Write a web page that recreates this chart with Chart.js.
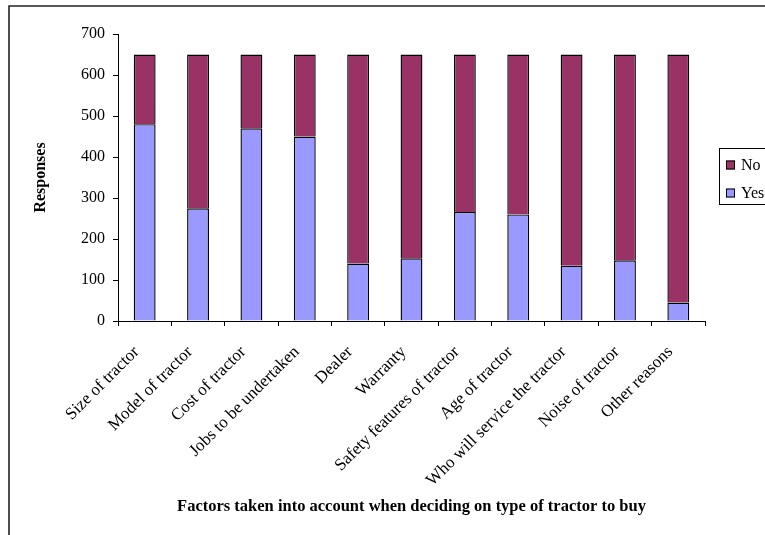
<!DOCTYPE html>
<html>
<head>
<meta charset="utf-8">
<title>Tractor purchase factors</title>
<script src="https://cdn.jsdelivr.net/npm/chart.js@4/dist/chart.umd.min.js"></script>
<style>
  html, body { margin: 0; padding: 0; background: #fff; overflow: hidden; }
  #wrap { position: relative; width: 765px; height: 535px; }
</style>
</head>
<body>
<div id="wrap"><canvas id="tractorChart" width="765" height="535"></canvas></div>
<script>
// Survey responses per factor (each bar totals 650 respondents)
const factors = [
  'Size of tractor', 'Model of tractor', 'Cost of tractor', 'Jobs to be undertaken',
  'Dealer', 'Warranty', 'Safety features of tractor', 'Age of tractor',
  'Who will service the tractor', 'Noise of tractor', 'Other reasons'
];
const yesCounts = [480, 275, 470, 450, 140, 153, 266, 260, 135, 148, 45];
const noCounts = [170, 375, 180, 200, 510, 497, 384, 390, 515, 502, 605];
const yTicks = [0, 100, 200, 300, 400, 500, 600, 700];

const serif = '"Liberation Serif", "Times New Roman", serif';

// Outer frame of the chart sheet (right/bottom edges run off the page)
const framePlugin = {
  id: 'frame',
  beforeDraw(chart) {
    const ctx = chart.ctx;
    ctx.save();
    ctx.fillStyle = '#fff';
    ctx.fillRect(0, 0, chart.width, chart.height);
    ctx.strokeStyle = '#222';
    ctx.lineWidth = 1.6;
    ctx.beginPath();
    ctx.moveTo(9, chart.height + 2);
    ctx.lineTo(9, 6);
    ctx.lineTo(chart.width + 2, 6);
    ctx.stroke();
    ctx.restore();
  }
};

// Boxed legend on the right, No above Yes
const boxLegend = {
  id: 'boxLegend',
  afterDraw(chart) {
    const ctx = chart.ctx;
    const items = chart.data.datasets.slice().reverse();
    ctx.save();
    ctx.strokeStyle = '#000';
    ctx.lineWidth = 1;
    ctx.strokeRect(719.5, 148.5, 60, 56);
    ctx.font = '16px ' + serif;
    ctx.textBaseline = 'middle';
    items.forEach((ds, i) => {
      const cy = 165 + i * 28;
      ctx.fillStyle = ds.backgroundColor;
      ctx.fillRect(726, cy - 4.5, 9, 9);
      ctx.strokeRect(726.5, cy - 4, 8, 8);
      ctx.fillStyle = '#000';
      ctx.fillText(ds.label, 741, cy + 1);
    });
    ctx.restore();
  }
};

new Chart(document.getElementById('tractorChart'), {
  type: 'bar',
  data: {
    labels: factors,
    datasets: [
      {
        label: 'Yes',
        data: yesCounts,
        backgroundColor: '#9999ff',
        borderColor: '#000',
        borderWidth: 1.4,
        barPercentage: 0.41,
        categoryPercentage: 1
      },
      {
        label: 'No',
        data: noCounts,
        backgroundColor: '#993366',
        borderColor: '#000',
        borderWidth: 1.4,
        barPercentage: 0.41,
        categoryPercentage: 1
      }
    ]
  },
  options: {
    responsive: false,
    animation: false,
    layout: { padding: { top: 34, right: 60, bottom: 0, left: 0 } },
    plugins: {
      legend: { display: false },
      tooltip: { enabled: false }
    },
    scales: {
      x: {
        stacked: true,
        afterFit(scale) { scale.height = 214; },
        grid: {
          offset: true,
          drawOnChartArea: false,
          tickLength: 5,
          color: '#000'
        },
        border: { color: '#000', width: 1 },
        ticks: {
          color: '#000',
          font: { family: serif, size: 17 },
          minRotation: 45,
          maxRotation: 45,
          autoSkip: false,
          padding: 16,
          labelOffset: -8
        },
        title: {
          display: true,
          text: 'Factors taken into account when deciding on type of tractor to buy',
          color: '#000',
          font: { family: serif, size: 16.5, weight: 'bold' },
          padding: { top: 0, bottom: 18 }
        }
      },
      y: {
        stacked: true,
        min: 0,
        max: 700,
        afterFit(scale) { scale.width = 118; },
        afterBuildTicks(scale) { scale.ticks = yTicks.map(v => ({ value: v })); },
        grid: {
          drawOnChartArea: false,
          tickLength: 5,
          color: '#000'
        },
        border: { color: '#000', width: 1 },
        ticks: {
          color: '#000',
          font: { family: serif, size: 16 },
          padding: 8
        },
        title: {
          display: true,
          text: 'Responses',
          color: '#000',
          font: { family: serif, size: 16, weight: 'bold' },
          padding: { top: 31, bottom: 0 }
        }
      }
    }
  },
  plugins: [framePlugin, boxLegend]
});
</script>
</body>
</html>
